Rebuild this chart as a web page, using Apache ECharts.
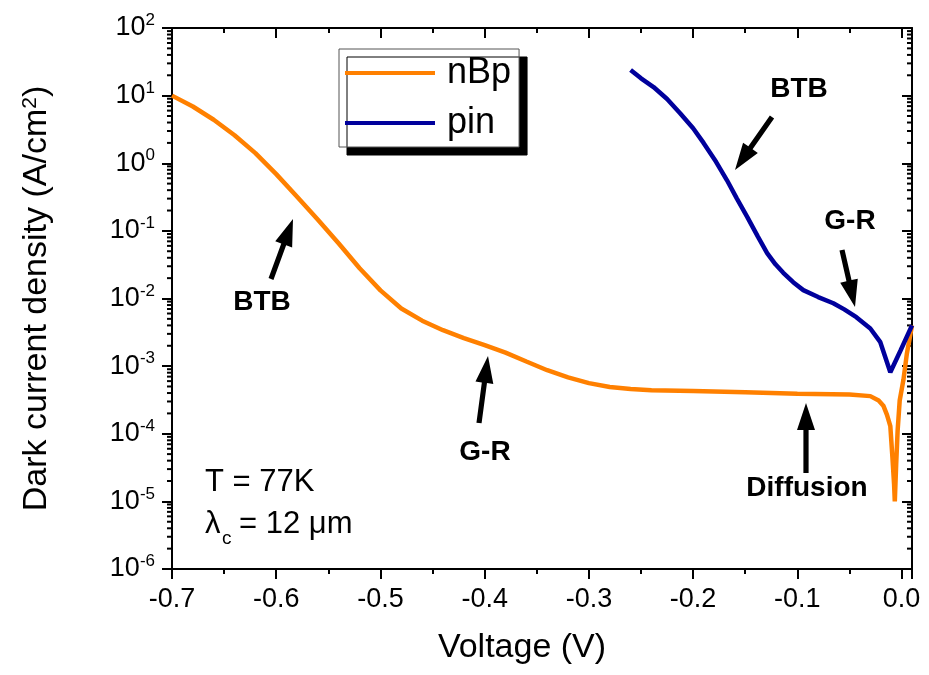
<!DOCTYPE html>
<html>
<head>
<meta charset="utf-8">
<script src="https://cdn.jsdelivr.net/npm/echarts@6/dist/echarts.min.js"></script>
<style>
html, body { margin: 0; padding: 0; background: #fff; }
#chart { width: 929px; height: 675px; }
</style>
</head>
<body>
<div id="chart"></div>
<script>
// nBp device, dark current density (A/cm2) vs bias (V)
const nbpVoltage = [-0.700, -0.680, -0.660, -0.640, -0.620, -0.600, -0.580, -0.560, -0.540, -0.520,
  -0.500, -0.480, -0.460, -0.440, -0.420, -0.400, -0.380, -0.360, -0.340, -0.320,
  -0.300, -0.280, -0.260, -0.240, -0.200, -0.150, -0.100, -0.050, -0.030, -0.022, -0.0175,
  -0.014, -0.0108, -0.0088, -0.0072, -0.0065, -0.0052, -0.0038, -0.0018, 0.0018, 0.005, 0.010];
const nbpCurrent = [10, 6.9, 4.4, 2.6, 1.41, 0.69, 0.32, 0.146, 0.065, 0.028,
  0.0132, 0.0071, 0.0047, 0.0034, 0.0026, 0.00204, 0.00158, 0.00117, 0.00087, 0.00068,
  0.00056, 0.00049, 0.00046, 0.00044, 0.00043, 0.00041, 0.00039, 0.00038, 0.00036, 0.00031, 0.00026,
  0.00019, 0.00013, 4.5e-5, 1.8e-5, 1.0e-5, 3.5e-5, 1.1e-4, 3.1e-4, 6.3e-4, 1.5e-3, 4.0e-3];

// pin device
const pinVoltage = [-0.260, -0.250, -0.238, -0.225, -0.2125, -0.200, -0.190, -0.178, -0.1675, -0.158,
  -0.148, -0.138, -0.129, -0.121, -0.1135, -0.104, -0.0943, -0.080, -0.0655, -0.055,
  -0.0434, -0.030, -0.0204, -0.0108, -0.001, 0.010];
const pinCurrent = [24, 18, 13.4, 8.9, 5.5, 3.3, 2.0, 1.05, 0.56, 0.30,
  0.16, 0.083, 0.047, 0.032, 0.024, 0.0174, 0.0133, 0.0105, 0.0085, 0.0069,
  0.0053, 0.0036, 0.00226, 0.00081, 0.0017, 0.0040];

const xTicks = [-0.7, -0.6, -0.5, -0.4, -0.3, -0.2, -0.1, 0.0];
const yMinorTicks = [];
for (let n = -6; n < 2; n++) {
  for (let k = 2; k <= 9; k++) yMinorTicks.push(k * Math.pow(10, n));
}

const FONT = '"Liberation Sans", Arial, sans-serif';
const XMIN = -0.7, XMAX = 0.01, YMIN = 1e-6, YMAX = 1e2;

function zip(xs, ys) {
  return xs.map((x, i) => [x, ys[i]]);
}

function arrow(tail, tip) {
  const HL = 27, HW = 9, SW = 2.6;
  const dx = tip[0] - tail[0], dy = tip[1] - tail[1];
  const L = Math.hypot(dx, dy);
  const ux = dx / L, uy = dy / L, nx = -uy, ny = ux;
  const bx = tip[0] - ux * HL, by = tip[1] - uy * HL;
  return {
    type: 'polygon',
    shape: { points: [
      [tail[0] + nx * SW, tail[1] + ny * SW], [bx + nx * SW, by + ny * SW], [bx + nx * HW, by + ny * HW],
      tip, [bx - nx * HW, by - ny * HW], [bx - nx * SW, by - ny * SW], [tail[0] - nx * SW, tail[1] - ny * SW]
    ] },
    style: { fill: '#000' }
  };
}
function note(text, x, y, font, align) {
  return {
    type: 'text',
    style: { text: text, x: x, y: y, font: font, fill: '#000', textAlign: align, textVerticalAlign: 'middle' }
  };
}
const BOLD = 'bold 28px ' + FONT;

const annotations = [
  arrow([271, 279], [293, 219]), note('BTB', 262, 302, BOLD, 'center'),
  arrow([772, 117], [735, 170]), note('BTB', 799, 89, BOLD, 'center'),
  arrow([842, 250], [855, 307]), note('G-R', 850, 221, BOLD, 'center'),
  arrow([479, 423], [488, 356]), note('G-R', 485, 452, BOLD, 'center'),
  arrow([806, 473], [806, 403]), note('Diffusion', 807, 488, BOLD, 'center'),
  note('T = 77K', 205, 482, '31px ' + FONT, 'left'),
  note('λ', 205, 524, '31px ' + FONT, 'left'),
  note('c', 222, 539, '19px ' + FONT, 'left'),
  note('= 12 μm', 239, 524, '31px ' + FONT, 'left')
];

const axisLine = { show: true, onZero: false, lineStyle: { color: '#000', width: 2 } };
const majorTick = inside => ({ show: true, inside: inside, length: 10, lineStyle: { color: '#000', width: 2 } });
const minorTick = () => ({ show: true, splitNumber: 2, length: 5, lineStyle: { color: '#000', width: 2 } });

const chart = echarts.init(document.getElementById('chart'));
chart.setOption({
  animation: false,
  grid: { left: 172, right: 17, top: 28, bottom: 106 },
  legend: {
    left: 339, top: 49, orient: 'vertical',
    padding: [4, 8, 4, 6], itemGap: 10,
    itemWidth: 90, itemHeight: 4, icon: 'rect',
    borderColor: '#555', borderWidth: 1, backgroundColor: '#fff',
    shadowColor: '#000', shadowBlur: 0, shadowOffsetX: 8, shadowOffsetY: 8,
    textStyle: { fontSize: 36, lineHeight: 40, color: '#000', fontFamily: FONT, padding: [0, 0, 0, 7] },
    data: ['nBp', 'pin']
  },
  xAxis: [
    {
      type: 'value', position: 'bottom', min: XMIN, max: XMAX, interval: 0.1,
      axisLine: axisLine, axisTick: majorTick(false), minorTick: minorTick(), splitLine: { show: false },
      axisLabel: {
        customValues: xTicks, margin: 17,
        formatter: v => v.toFixed(1),
        fontSize: 27, color: '#000', fontFamily: FONT
      },
      name: 'Voltage (V)', nameLocation: 'middle', nameGap: 62,
      nameTextStyle: { fontSize: 34, color: '#000', fontFamily: FONT, padding: [0, 40, 0, 0] }
    },
    {
      type: 'value', position: 'top', min: XMIN, max: XMAX, interval: 0.1,
      axisLine: axisLine, axisTick: majorTick(true), minorTick: minorTick(),
      axisLabel: { show: false }, splitLine: { show: false }
    }
  ],
  yAxis: [
    {
      type: 'log', logBase: 10, min: YMIN, max: YMAX, position: 'left',
      axisLine: axisLine, axisTick: majorTick(false), splitLine: { show: false },
      axisLabel: {
        margin: 17,
        formatter: v => '{b|10}{s|' + Math.round(Math.log10(v)) + '}',
        rich: {
          b: { fontSize: 27, color: '#000', fontFamily: FONT, lineHeight: 32 },
          s: { fontSize: 17, color: '#000', fontFamily: FONT, verticalAlign: 'top', lineHeight: 18 }
        }
      },
      name: 'Dark current density (A/cm{s|2})', nameLocation: 'middle', nameGap: 118,
      nameTextStyle: {
        fontSize: 34, color: '#000', fontFamily: FONT,
        rich: { s: { fontSize: 21, color: '#000', fontFamily: FONT, verticalAlign: 'top', lineHeight: 22 } }
      }
    },
    {
      type: 'log', logBase: 10, min: YMIN, max: YMAX, position: 'right',
      axisLine: axisLine, axisTick: majorTick(true), axisLabel: { show: false }, splitLine: { show: false }
    }
  ],
  series: [
    {
      name: 'nBp', type: 'line', xAxisIndex: 0, yAxisIndex: 0,
      data: zip(nbpVoltage, nbpCurrent), showSymbol: false, smooth: false,
      lineStyle: { color: '#FF8000', width: 4.5 }, itemStyle: { color: '#FF8000' }
    },
    {
      name: 'pin', type: 'line', xAxisIndex: 0, yAxisIndex: 0,
      data: zip(pinVoltage, pinCurrent), showSymbol: false, smooth: false,
      lineStyle: { color: '#00009C', width: 4.5 }, itemStyle: { color: '#00009C' }
    }
  ]
});

// log minor ticks (2..9 per decade): left outward, right inward, placed via the y axis scale
const xl = chart.convertToPixel({ xAxisIndex: 0 }, XMIN);
const xr = chart.convertToPixel({ xAxisIndex: 0 }, XMAX);
const minorLines = [];
yMinorTicks.forEach(v => {
  const y = chart.convertToPixel({ yAxisIndex: 0 }, v);
  minorLines.push({ type: 'line', shape: { x1: xl, y1: y, x2: xl - 5, y2: y }, style: { stroke: '#000', lineWidth: 2 } });
  minorLines.push({ type: 'line', shape: { x1: xr, y1: y, x2: xr - 5, y2: y }, style: { stroke: '#000', lineWidth: 2 } });
});

chart.setOption({ graphic: minorLines.concat(annotations) });
</script>
</body>
</html>
